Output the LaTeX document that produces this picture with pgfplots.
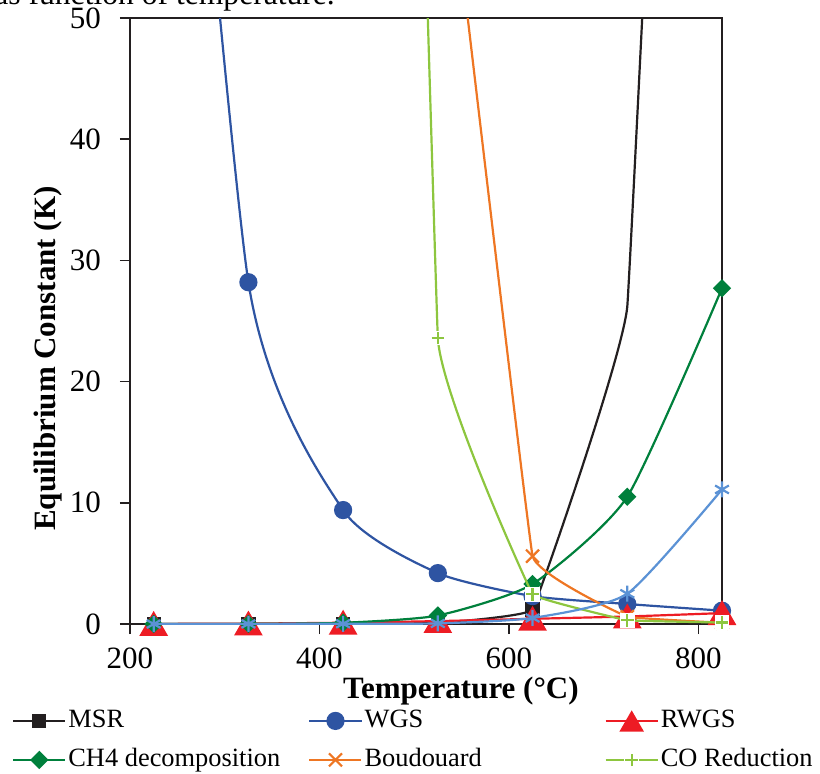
\documentclass[border=0pt]{standalone}
\usepackage{fontspec}
\setmainfont{Liberation Serif}
\usepackage{pgfplots}
\pgfplotsset{compat=1.18}
\definecolor{cMSR}{RGB}{35,31,32}
\definecolor{cWGS}{RGB}{46,84,162}
\definecolor{cRWGS}{RGB}{237,28,36}
\definecolor{cCH4}{RGB}{0,128,60}
\definecolor{cBou}{RGB}{238,118,35}
\definecolor{cCO}{RGB}{141,198,63}
\definecolor{cLB}{RGB}{91,146,213}
\pgfdeclareplotmark{wplus}{%
  \pgfpathrectangle{\pgfqpoint{-\pgfplotmarksize}{-\pgfplotmarksize}}{\pgfqpoint{2\pgfplotmarksize}{2\pgfplotmarksize}}%
  \pgfusepathqfill
  \pgfpathmoveto{\pgfqpoint{-0.85\pgfplotmarksize}{0pt}}\pgfpathlineto{\pgfqpoint{0.85\pgfplotmarksize}{0pt}}%
  \pgfpathmoveto{\pgfqpoint{0pt}{-0.85\pgfplotmarksize}}\pgfpathlineto{\pgfqpoint{0pt}{0.85\pgfplotmarksize}}%
  \pgfusepathqstroke}
\begin{document}
\begin{tikzpicture}
\begin{axis}[
  at={(0pt,0pt)}, anchor=south west, scale only axis,
  width=296pt, height=303pt,
  xmin=200, xmax=825, ymin=0, ymax=50,
  xtick={200,400,600,800}, ytick={0,10,20,30,40,50},
  xtick pos=left, ytick pos=left, tick align=outside, major tick length=5pt,
  axis line style={line width=0.8pt, draw=cMSR},
  tick style={line width=0.8pt, draw=cMSR},
  tick label style={font=\fontsize{15.5}{18}\selectfont},
  xticklabel style={yshift=-3.5pt},
  yticklabel style={xshift=-6pt},
  /pgf/number format/assume math mode=true,
  xlabel={Temperature (°C)}, ylabel={Equilibrium Constant (K)},
  label style={font=\fontsize{15.5}{18}\selectfont\bfseries},
  xlabel style={at={(axis description cs:0.559,-0.111)}, anchor=center},
  ylabel style={at={(axis description cs:-0.139,0.438)}, anchor=center},
  clip mode=individual,
  every axis plot/.append style={line width=1.1pt},
  legend columns=3, legend cell align=left,
  legend style={draw=none, fill=none, inner sep=0pt, outer sep=0pt,
    at={(axis description cs:-0.199,-0.136)}, anchor=north west,
    font=\fontsize{13.2}{15.8}\selectfont, row sep=5pt,
    nodes={inner sep=1pt, text height=9.5pt, text depth=3pt}},
  legend image code/.code={\draw[mark indices={2}] plot coordinates {(0pt,0pt) (13pt,0pt) (26pt,0pt)};},
]
% MSR
\addplot[cMSR, smooth, tension=0.08, mark=square*, mark size=3pt, mark options={solid, fill=cMSR}, mark indices={0,1,2,3,4,5}]
  coordinates {(225,0.0001) (325,0.002) (425,0.02) (525,0.08) (625,1.2) (725,26.2) (825,185)};
\addlegendentry{\makebox[119pt][l]{MSR}}
% WGS
\addplot[cWGS, smooth, tension=0.35, mark=*, mark size=4pt, mark options={solid, fill=cWGS}, mark indices={1,2,3,4,5,6}]
  coordinates {(225,110) (325,28.2) (425,9.4) (525,4.2) (625,2.3) (725,1.65) (825,1.1)};
\addlegendentry{\makebox[119pt][l]{WGS}}
% RWGS
\addplot[cRWGS, smooth, tension=0.35, mark=triangle*, mark size=7.2pt, mark options={solid, fill=cRWGS, yshift=-1.8pt}, legend image post style={mark size=6pt}]
  coordinates {(225,0.007) (325,0.035) (425,0.106) (525,0.24) (625,0.43) (725,0.62) (825,0.9)};
\addlegendentry{RWGS}
% CH4
\addplot[cCH4, smooth, tension=0.35, mark=square*, mark size=2.7pt, mark options={solid, fill=cCH4, rotate=45}]
  coordinates {(225,0.0005) (325,0.01) (425,0.1) (525,0.7) (625,3.3) (725,10.5) (825,27.7)};
\addlegendentry{\makebox[119pt][l]{CH4 decomposition}}
% Boudouard
\addplot[cBou, smooth, tension=0.08, mark=x, mark size=4.6pt, mark options={solid}, mark indices={1,2,3}]
  coordinates {(525,71) (625,5.6) (725,0.6) (825,0.1)};
\addlegendentry{\makebox[119pt][l]{Boudouard}}
% CO reduction
\addplot[cCO, smooth, tension=0.06, mark=wplus, mark size=3.7pt, mark options={solid, fill=white, draw=cCO}, mark indices={1,2,3,4}]
  coordinates {(425,287) (525,23.6) (625,2.45) (725,0.3) (825,0.12)};
\addlegendentry{CO Reduction}
% seventh series
\addplot[cLB, smooth, tension=0.35, mark=asterisk, mark size=4pt, mark options={solid}, forget plot]
  coordinates {(225,0.0) (325,0.01) (425,0.02) (525,0.05) (625,0.5) (725,2.5) (825,11.1)};
\end{axis}
\node[anchor=base west, inner sep=0pt, font=\fontsize{15.8}{19}\selectfont] at (-68pt,309.5pt) {as function of temperature.};
\pgfresetboundingbox
\path (-65pt,-74.5pt) rectangle (345pt,312pt);
\end{tikzpicture}
\end{document}
